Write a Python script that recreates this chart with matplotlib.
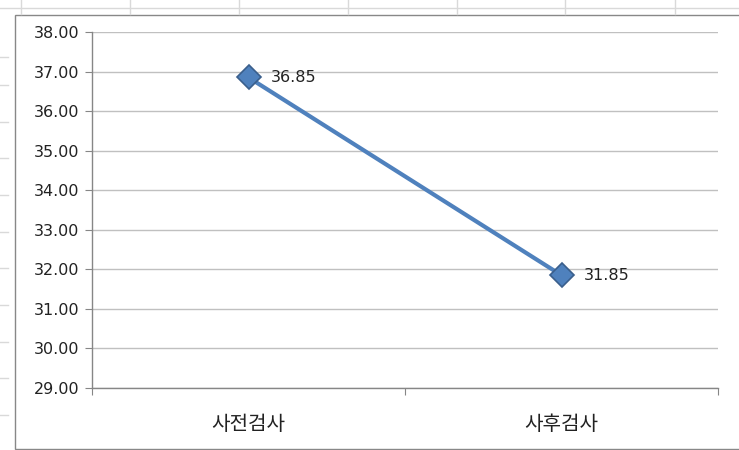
import numpy as np
import matplotlib.pyplot as plt
from matplotlib.patches import Rectangle

categories = ['사전검사', '사후검사']
scores = [36.85, 31.85]
y_ticks = [29, 30, 31, 32, 33, 34, 35, 36, 37, 38]

fig = plt.figure(figsize=(7.39, 4.5), dpi=100)
W, H = 739, 450

# spreadsheet background lines and chart border (in pixel coords)
bg = fig.add_axes([0, 0, 1, 1])
bg.set_xlim(0, W)
bg.set_ylim(H, 0)
bg.axis('off')
bg.plot([0, W], [8, 8], color='#d9d9d9', lw=1)
for x in [21, 130, 239, 348, 457, 565, 675]:
    bg.plot([x, x], [0, 14], color='#d9d9d9', lw=1)
for y in [57, 85, 122, 158, 195, 232, 268, 305, 342, 378, 415]:
    bg.plot([0, 8], [y, y], color='#d9d9d9', lw=1)
bg.add_patch(Rectangle((15, 15), 740, 434, fill=True, facecolor='white',
                       edgecolor='#888888', lw=1))

ax = fig.add_axes([92 / W, 1 - 388 / H, 626 / W, 356 / H])
x = np.arange(1, len(categories) + 1)
ax.plot(x, scores, color='#4F81BD', lw=3, marker='D', markersize=12.5,
        markerfacecolor='#4F81BD', markeredgecolor='#3A5F8C', markeredgewidth=1.2,
        zorder=3)
for xi, v in zip(x, scores):
    ax.annotate(f'{v:.2f}', (xi, v), xytext=(16, 0), textcoords='offset points',
                va='center', ha='left', fontsize=11.5, family='DejaVu Sans',
                color='#222222')

ax.set_xlim(0.5, len(categories) + 0.5)
ax.set_ylim(29, 38)
ax.set_yticks(y_ticks)
ax.set_yticklabels([f'{t:.2f}' for t in y_ticks], fontsize=11.5,
                   family='DejaVu Sans', color='#222222')
ax.yaxis.grid(True, color='#c0c0c0', lw=1)
ax.set_axisbelow(True)

ax.set_xticks([0.5, 1.5, 2.5])
ax.set_xticklabels([])
ax.set_xticks(x, minor=True)
ax.set_xticklabels(categories, minor=True, fontsize=14.5,
                   family=['Noto Sans CJK KR', 'DejaVu Sans'], color='#222222')
ax.tick_params(axis='x', which='minor', length=0, pad=19)
ax.tick_params(axis='x', which='major', length=5, color='#868686', direction='out')
ax.tick_params(axis='y', length=5, color='#868686', direction='out', pad=4)

for side in ['top', 'right']:
    ax.spines[side].set_visible(False)
for side in ['left', 'bottom']:
    ax.spines[side].set_color('#868686')
    ax.spines[side].set_linewidth(1)

fig.savefig('out.png', dpi=100)
